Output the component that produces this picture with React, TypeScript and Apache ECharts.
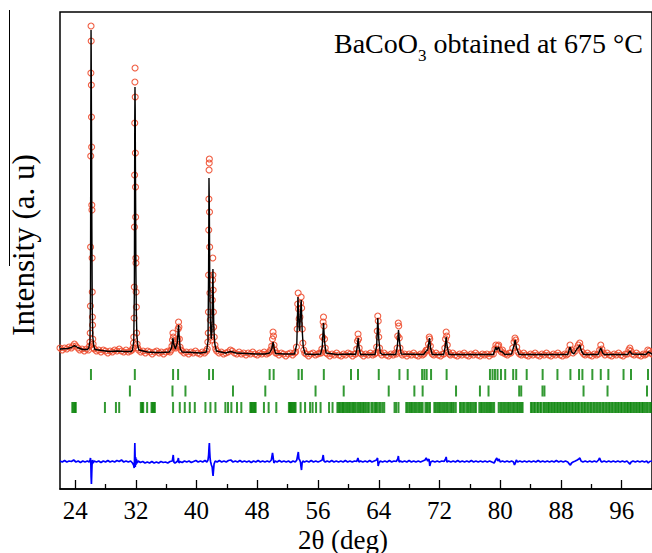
import React, { useEffect, useRef } from "react";
import * as echarts from "echarts";

const FONT = "'Liberation Serif', 'Times New Roman', Times, serif";

// 2θ tick labels
const majorTicks = [24, 32, 40, 48, 56, 64, 72, 80, 88, 96];
const minorTicks = [28, 36, 44, 52, 60, 68, 76, 84, 92, 100];

// observed intensities [2θ, I]
const observed: number[][] = [
  [22.0,141],[22.3,139],[22.6,141],[22.9,140],[23.2,142],[23.5,141],[23.7,143],[23.9,145],[24.1,143],[24.35,141],[24.6,139],[24.9,140],[25.2,138],[25.5,140],[25.75,139],
  [25.9,143],[25.94,147],[25.98,156],[26.01,183],[26.03,242],[26.05,333],[26.07,416],[26.09,463],[26.11,448],[26.13,404],[26.15,372],[26.17,342],[26.19,284],[26.21,279],[26.23,231],[26.25,197],[26.27,172],[26.29,164],[26.32,150],[26.36,145],[26.42,141],
  [26.5,140],[26.8,138],[27.1,139],[27.4,137],[27.7,139],[28.0,138],[28.3,136],[28.6,138],[28.9,137],[29.2,139],[29.5,138],[29.8,140],[30.1,138],[30.4,137],[30.7,139],[31.0,137],[31.3,138],[31.5,139],
  [31.62,141],[31.68,146],[31.72,152],[31.76,171],[31.79,202],[31.81,262],[31.83,314],[31.85,366],[31.87,407],[31.89,421],[31.91,392],[31.93,336],[31.95,302],[31.97,272],[31.99,231],[32.01,226],[32.03,197],[32.06,182],[32.1,156],[32.16,145],[32.25,141],
  [32.35,139],[32.65,137],[32.95,138],[33.25,136],[33.55,138],[33.85,137],[34.15,135],[34.45,137],[34.75,138],[35.05,136],[35.35,137],[35.65,135],[35.95,137],[36.25,138],[36.5,137],
  [36.65,139],[36.75,143],[36.82,149],[36.88,156],[36.94,152],[37.0,145],[37.1,142],[37.25,141],[37.4,143],[37.5,150],[37.57,160],[37.62,167],[37.67,162],[37.73,150],[37.82,142],[37.95,139],
  [38.05,138],[38.35,136],[38.65,137],[38.95,135],[39.25,137],[39.55,136],[39.85,138],[40.15,136],[40.45,135],[40.75,137],[41.05,136],[41.3,138],
  [41.4,140],[41.48,147],[41.53,156],[41.56,177],[41.58,214],[41.6,259],[41.62,290],[41.64,319],[41.66,326],[41.68,330],[41.7,277],[41.72,242],[41.75,196],[41.8,169],[41.88,152],[41.95,149],[42.02,160],[42.07,189],[42.1,209],[42.13,231],[42.15,214],[42.18,199],[42.21,177],[42.25,162],[42.32,152],[42.42,144],[42.52,140],
  [42.65,138],[42.95,136],[43.25,137],[43.55,135],[43.85,136],[44.15,137],[44.45,139],[44.7,138],[45.0,136],[45.3,135],[45.6,137],[45.9,135],[46.2,136],[46.5,134],[46.8,136],[47.1,135],[47.4,137],[47.7,135],[48.0,134],[48.3,136],[48.6,135],[48.9,137],[49.2,135],
  [49.45,136],[49.6,137],[49.75,139],[49.9,143],[50.0,150],[50.07,157],[50.13,153],[50.2,144],[50.3,139],[50.42,136],
  [50.55,136],[50.85,134],[51.15,136],[51.45,135],[51.75,133],[52.05,135],[52.35,136],[52.65,134],[52.9,136],
  [53.05,137],[53.15,142],[53.25,160],[53.32,185],[53.38,196],[53.44,180],[53.5,170],[53.56,165],[53.62,172],[53.7,186],[53.77,192],[53.84,181],[53.92,160],[54.0,146],[54.12,139],[54.25,136],
  [54.45,135],[54.75,133],[55.05,135],[55.35,136],[55.65,134],[55.95,135],[56.2,136],
  [56.4,136],[56.5,140],[56.6,152],[56.67,167],[56.72,172],[56.78,163],[56.85,150],[56.95,141],[57.08,136],
  [57.25,135],[57.55,133],[57.85,135],[58.15,134],[58.45,136],[58.75,134],[59.05,133],[59.35,135],[59.65,134],[59.95,136],[60.25,135],[60.55,133],[60.8,135],
  [60.95,135],[61.1,140],[61.2,148],[61.27,155],[61.34,150],[61.42,141],[61.55,136],
  [61.7,135],[62.0,133],[62.3,135],[62.6,134],[62.9,136],[63.2,134],[63.45,135],
  [63.6,136],[63.72,142],[63.8,158],[63.87,173],[63.93,168],[64.0,152],[64.1,141],[64.22,136],
  [64.4,134],[64.7,136],[65.0,134],[65.3,133],[65.6,135],[65.9,134],[66.15,136],
  [66.3,135],[66.42,141],[66.5,153],[66.57,166],[66.63,163],[66.7,151],[66.8,141],[66.92,136],
  [67.1,134],[67.4,135],[67.7,133],[68.0,135],[68.3,134],[68.6,136],[68.9,134],[69.2,133],[69.5,135],[69.75,134],
  [69.95,135],[70.1,137],[70.25,139],[70.4,139],[70.55,145],[70.65,152],[70.72,150],[70.8,143],[70.92,137],[71.05,135],
  [71.25,134],[71.55,136],[71.85,134],[72.15,133],[72.4,135],
  [72.58,135],[72.7,141],[72.8,150],[72.88,157],[72.95,153],[73.03,144],[73.15,137],[73.3,135],
  [73.45,134],[73.75,136],[74.05,134],[74.35,133],[74.65,135],[74.95,134],[75.25,136],[75.55,134],[75.85,133],[76.15,135],[76.45,134],[76.75,136],[77.05,134],[77.35,133],[77.65,135],[77.95,134],[78.25,135],[78.55,133],[78.85,135],
  [79.1,135],[79.3,140],[79.43,144],[79.55,140],[79.68,143],[79.8,144],[79.95,139],[80.15,137],[80.3,139],[80.45,136],[80.7,135],[80.95,134],[81.2,136],[81.4,136],[81.65,141],[81.82,147],[81.95,151],[82.05,149],[82.18,142],[82.35,137],[82.55,135],
  [82.8,134],[83.1,136],[83.4,134],[83.7,133],[84.0,135],[84.3,134],[84.6,136],[84.9,134],[85.2,133],[85.5,135],[85.8,134],[86.1,136],[86.4,134],[86.7,133],[87.0,135],[87.3,134],[87.6,136],[87.9,134],[88.2,133],[88.5,135],[88.7,134],
  [88.9,135],[89.05,139],[89.2,144],[89.35,139],[89.6,136],[89.9,138],[90.1,141],[90.3,144],[90.48,146],[90.62,142],[90.8,137],[91.0,135],
  [91.2,134],[91.5,136],[91.8,134],[92.1,133],[92.4,135],[92.7,134],
  [92.95,135],[93.1,139],[93.25,144],[93.4,140],[93.58,136],
  [93.8,134],[94.1,136],[94.4,134],[94.7,133],[95.0,135],[95.3,134],[95.6,136],[95.9,134],[96.2,133],[96.5,135],
  [96.75,135],[96.95,139],[97.08,141],[97.22,138],[97.4,135],
  [97.65,134],[97.95,136],[98.25,134],[98.55,133],[98.85,135],[99.05,134],
  [99.25,135],[99.45,139],[99.65,138],[99.85,136],[100,135],
];

// calculated profile [2θ, I]
const calculated: number[][] = [
  [22.0,140],[23.0,140.5],[23.5,141.5],[23.9,143.5],[24.3,141.5],[25.0,139.5],[25.6,139.5],[25.8,141],[25.95,148],[26.02,200],[26.06,380],[26.09,459],[26.11,440],[26.14,380],[26.17,330],[26.2,260],[26.25,180],[26.32,152],[26.45,143],[26.6,139.5],
  [27.5,138.5],[28.5,137.5],[29.5,138],[30.5,137.5],[31.4,137.5],[31.55,139],[31.72,148],[31.8,200],[31.85,370],[31.88,402],[31.91,380],[31.94,320],[31.97,280],[32.0,220],[32.05,180],[32.12,155],[32.25,143],[32.4,139],
  [33.5,137],[34.5,136.5],[35.5,136.5],[36.4,137],[36.7,141],[36.88,151],[36.98,145],[37.2,140],[37.45,146],[37.62,164],[37.72,150],[37.85,140],[38.1,137],
  [39.5,136.5],[40.5,136],[41.3,137],[41.5,148],[41.58,220],[41.63,311],[41.68,280],[41.73,210],[41.8,170],[41.92,150],[42.02,158],[42.1,200],[42.15,220],[42.2,190],[42.27,160],[42.4,145],[42.6,138],
  [43.8,136],[44.5,137.5],[45.2,136],[46.5,135.5],[47.8,135],[49.0,135],[49.6,136],[49.9,140],[50.08,147],[50.2,141],[50.4,135.5],
  [51.5,135],[52.9,135],[53.2,145],[53.35,192],[53.5,162],[53.57,158],[53.78,189],[53.9,160],[54.05,142],[54.3,135],
  [55.6,134.5],[56.35,135],[56.55,142],[56.72,166],[56.85,148],[57.05,136],[58.5,134.5],[60.3,135],[60.95,134.5],[61.15,141],[61.28,151],[61.4,141],[61.6,134.5],
  [63.5,134.5],[63.72,143],[63.87,171],[64.0,150],[64.2,136],[64.5,134.5],[66.25,134.5],[66.45,143],[66.6,159],[66.72,148],[66.95,135],
  [69.9,134.5],[70.25,138],[70.45,139],[70.68,151],[70.82,141],[71.05,134.5],[72.55,134.5],[72.75,142],[72.88,152],[73.02,142],[73.25,134.5],
  [79.1,134.5],[79.43,142],[79.55,139],[79.78,142],[79.95,138],[80.3,137],[80.6,134.5],[81.5,135],[81.8,143],[81.97,149],[82.15,141],[82.5,134.5],
  [88.9,134.5],[89.2,142],[89.4,137],[89.7,135],[90.1,140],[90.25,141],[90.48,144],[90.7,138],[91.0,134.5],[92.9,134.5],[93.25,141],[93.5,136],[93.7,134.5],
  [96.8,134.5],[97.07,138],[97.35,135],[99.2,134.5],[99.5,137],[99.8,136],[100,135],
];

// difference curve (offset) [2θ, I]
const difference: number[][] = [
  [22.0,28],[22.3,27],[22.6,28.5],[22.9,27],[23.2,28],[23.5,27.5],[23.8,29],[24.1,27],[24.4,28],[24.7,26.5],[25.0,28],[25.3,27],[25.6,28],[25.85,27],[25.95,29],[26.02,31],[26.07,24],[26.1,12],[26.14,5],[26.18,15],[26.22,24],[26.28,29],[26.35,26],
  [26.5,28],[26.8,27],[27.1,28],[27.4,26.5],[27.7,28],[28.0,27],[28.3,28.5],[28.6,27],[28.9,28],[29.2,27],[29.5,28.5],[29.8,27.5],[30.1,29],[30.4,27],[30.7,28],[31.0,27],[31.3,28],[31.55,26],[31.7,24],[31.78,21],[31.82,30],[31.86,46],[31.89,35],[31.92,22],[31.96,32],[32.0,24],[32.06,30],[32.15,26],
  [32.3,28],[32.6,26.5],[32.9,27.5],[33.2,26],[33.5,27],[33.8,26],[34.1,27.5],[34.4,26],[34.7,27],[35.0,26],[35.3,27.5],[35.6,26.5],[35.9,27],[36.2,26],[36.5,27.5],[36.8,28],[36.92,34],[37.0,27],[37.15,26],[37.35,27],[37.5,28],[37.6,31],[37.68,26],[37.8,27.5],
  [38.1,26.5],[38.4,28],[38.7,27],[39.0,28],[39.3,26.5],[39.6,27.5],[39.9,28.5],[40.2,27],[40.5,28],[40.8,27],[41.1,28.5],[41.35,27],[41.5,29],[41.58,34],[41.64,42],[41.68,46],[41.72,38],[41.78,30],[41.85,27],[41.95,24],[42.05,22],[42.12,16],[42.17,13],[42.22,18],[42.3,25],[42.45,28],
  [42.7,27],[43.0,28.5],[43.3,27],[43.6,28],[43.9,27],[44.2,28.5],[44.5,29],[44.8,27],[45.1,28],[45.4,27],[45.7,28.5],[46.0,27],[46.3,28],[46.6,27],[46.9,28],[47.2,26.5],[47.5,28],[47.8,27],[48.1,28.5],[48.4,27],[48.7,28],[49.0,27],[49.3,28],[49.6,27],[49.85,29],[50.0,36],[50.08,32],[50.18,26],[50.35,28],
  [50.6,27],[50.9,28.5],[51.2,27],[51.5,28],[51.8,27],[52.1,28],[52.4,26.5],[52.7,28],[53.0,27],[53.2,29],[53.3,33],[53.4,37],[53.48,30],[53.58,29],[53.68,27],[53.76,22],[53.82,19],[53.9,26],[54.0,28],
  [54.2,27],[54.5,28],[54.8,27],[55.1,28.5],[55.4,27],[55.7,28],[56.0,27],[56.3,28],[56.55,29],[56.68,34],[56.78,28],[56.95,27],[57.2,28],[57.5,27],[57.8,28.5],[58.1,27],[58.4,28],[58.7,27],[59.0,28],[59.3,27],[59.6,28.5],[59.9,27],[60.2,28],[60.5,27],[60.8,28],[61.1,27.5],[61.25,31],[61.4,27],
  [61.6,28],[61.9,27],[62.2,28],[62.5,27],[62.8,28.5],[63.1,27],[63.4,28],[63.7,29],[63.84,31],[63.92,23],[64.02,26],[64.2,28],[64.5,27],[64.8,28],[65.1,27],[65.4,28.5],[65.7,27],[66.0,28],[66.3,27.5],[66.5,30],[66.58,33],[66.68,27],[66.85,28],
  [67.1,27],[67.4,28],[67.7,27],[68.0,28.5],[68.3,27],[68.6,28],[68.9,27],[69.2,28],[69.5,27],[69.8,28],[70.1,29],[70.25,31],[70.45,28],[70.62,30],[70.72,23],[70.85,27],[71.1,28],[71.4,27],[71.7,28],[72.0,27],[72.3,28],[72.6,27.5],[72.8,30],[72.88,32],[72.98,27],
  [73.2,28],[73.5,27],[73.8,28],[74.1,27],[74.4,28.5],[74.7,27],[75.0,28],[75.3,27],[75.6,28],[75.9,27],[76.2,28.5],[76.5,27],[76.8,28],[77.1,27],[77.4,28],[77.7,27],[78.0,28],[78.3,27],[78.6,28],[78.9,27],[79.2,26],[79.4,29],[79.55,31],[79.7,28],[79.85,30],[80.0,27],
  [80.3,28],[80.6,27],[80.9,28],[81.2,27],[81.5,28],[81.75,27],[81.88,24],[82.0,26],[82.12,29],[82.3,27],[82.6,28],[82.9,27],[83.2,28],[83.5,27],[83.8,28],[84.1,27],[84.4,28],[84.7,27],[85.0,28.5],[85.3,27],[85.6,28],[85.9,27],[86.2,28],[86.5,27],[86.8,28],[87.1,27],[87.4,28.5],[87.7,27],[88.0,28],[88.3,27],[88.6,28],[88.9,27],
  [89.1,25],[89.25,24],[89.4,26],[89.6,27],[89.9,28],[90.15,29],[90.35,30],[90.5,31],[90.65,28],[90.9,27],[91.2,28],[91.5,27],[91.8,28],[92.1,27],[92.4,28],[92.7,27],[92.95,29],[93.1,31],[93.25,28],[93.4,27],[93.7,28],[94.0,27],[94.3,28],[94.6,27],[94.9,28],[95.2,27],[95.5,28],[95.8,27],[96.1,28],[96.4,27],[96.7,28],
  [96.95,26],[97.1,25],[97.25,27],[97.5,28],[97.8,27],[98.1,28],[98.4,27],[98.7,28],[99.0,27],[99.3,28],[99.5,26],[99.7,27.5],[100,28],
];

// Bragg reflection positions (2θ) for the three phases
const phase1Ticks = [26.08,31.86,36.9,37.56,41.64,42.16,49.62,50.15,53.43,53.87,56.76,60.34,61.26,64.0,66.72,67.81,69.71,70.01,70.31,70.89,72.94,78.65,78.99,79.31,79.65,80.1,80.66,81.71,82.11,83.49,85.59,87.54,89.25,90.39,90.83,92.14,93.25,94.25,96.25,97.23,99.47];
const phase2Ticks = [31.21,36.82,38.53,44.79,49.05,55.67,59.38,65.31,68.69,69.78,74.18,77.33,78.46,82.5,82.77,85.57,85.83,90.98,94.14,99.34];
const phase3Ticks = [
  23.62,23.78,23.95,24.08,27.92,29.37,29.8,32.65,32.82,32.96,33.48,34.06,34.2,34.35,34.5,36.9,37.78,38.44,39.1,39.76,41.16,41.82,42.48,43.79,44.14,44.58,45.32,45.89,
  47.08,47.2,47.35,47.5,47.65,47.78,48.87,49.49,50.5,52.16,52.3,52.45,52.6,52.75,52.9,53.04,53.7,54.29,54.95,55.28,55.74,56.33,57.45,57.91,
  58.55,58.72,58.9,59.12,59.28,59.45,59.66,59.85,60.02,60.2,60.41,60.6,60.78,60.95,61.18,61.36,61.55,61.72,61.93,62.1,62.3,62.52,62.7,
  63.02,63.2,63.45,63.62,63.8,64.05,64.25,64.5,64.72,66.08,66.3,66.6,
  67.62,67.8,68.02,68.2,68.38,68.61,68.8,69.0,69.22,69.4,69.6,69.78,70.15,70.35,70.55,70.75,
  71.32,71.5,71.71,71.9,72.08,72.3,72.5,72.7,72.91,73.08,73.3,73.52,73.7,73.9,74.15,
  74.7,74.9,75.12,75.3,75.55,75.75,75.95,76.15,76.4,76.62,76.8,77.25,77.45,77.62,77.85,78.05,78.25,78.45,78.62,78.8,79.0,79.2,
  79.8,80.02,80.2,80.41,80.6,80.8,81.02,81.2,81.4,81.62,81.8,82.0,82.22,82.4,82.6,82.8,82.95,
  84.05,84.22,84.46,84.63,84.88,85.02,85.27,85.41,85.69,85.84,86.05,86.27,86.43,86.66,86.84,87.06,87.23,87.47,87.64,87.86,88.03,88.27,88.44,88.67,88.83,
  89.06,89.25,89.47,89.63,89.87,90.04,90.26,90.43,90.68,90.84,91.07,91.22,91.46,91.65,91.88,92.03,92.27,92.44,92.66,92.85,
  93.07,93.24,93.48,93.63,93.86,94.05,94.28,94.44,94.67,94.83,95.06,95.25,95.47,95.64,95.88,96.03,96.26,96.45,96.67,96.84,
  97.07,97.23,97.46,97.65,97.86,98.04,98.27,98.43,98.68,98.84,99.05,99.26,99.44,99.67,99.85,
];

// vertical levels (intensity units) of the three reflection rows
const ROW1 = 114.5;
const ROW2 = 98;
const ROW3 = 81.5;

function tickSeries(ticks: number[], level: number) {
  return {
    type: "scatter",
    data: ticks.map((t) => [t, level]),
    symbol: "rect",
    symbolSize: [2, 11],
    itemStyle: { color: "#008000" },
    silent: true,
    z: 2,
  };
}

export default function App() {
  const ref = useRef<HTMLDivElement>(null);
  useEffect(() => {
    if (!ref.current) return;
    const chart = echarts.init(ref.current, undefined, { renderer: "svg" });
    const option: any = {
      animation: false,
      backgroundColor: "#ffffff",
      grid: {
        left: 60,
        right: -1,
        top: 12,
        bottom: 64,
        show: true,
        borderColor: "#000",
        borderWidth: 1.5,
        backgroundColor: "transparent",
      },
      xAxis: [
        {
          type: "value",
          min: 22,
          max: 100,
          position: "bottom",
          axisLine: { show: true, onZero: false, lineStyle: { color: "#000", width: 1.5 } },
          axisTick: { show: true, inside: true, length: 9, customValues: majorTicks, lineStyle: { color: "#000", width: 1.3 } },
          axisLabel: {
            show: true,
            customValues: majorTicks,
            margin: 11.5,
            fontFamily: FONT,
            fontSize: 25,
            lineHeight: 20,
            color: "#000",
          },
          splitLine: { show: false },
        },
        {
          type: "value",
          min: 22,
          max: 100,
          position: "bottom",
          axisLine: { show: false, onZero: false },
          axisTick: { show: true, inside: true, length: 5, customValues: minorTicks, lineStyle: { color: "#000", width: 1.3 } },
          axisLabel: { show: false },
          splitLine: { show: false },
        },
      ],
      yAxis: {
        type: "value",
        min: 0,
        max: 477,
        show: false,
        splitLine: { show: false },
      },
      series: [
        {
          type: "scatter",
          data: observed,
          symbol: "circle",
          symbolSize: 6,
          itemStyle: { color: "rgba(0,0,0,0)", borderColor: "#ee4e30", borderWidth: 1.1, opacity: 0.9 },
          silent: true,
          z: 2,
        },
        {
          type: "line",
          data: calculated,
          showSymbol: false,
          lineStyle: { color: "#000", width: 1.4 },
          silent: true,
          z: 4,
        },
        {
          type: "line",
          data: difference,
          showSymbol: false,
          lineStyle: { color: "#0000ff", width: 1.7 },
          silent: true,
          z: 4,
        },
        tickSeries(phase1Ticks, ROW1),
        tickSeries(phase2Ticks, ROW2),
        tickSeries(phase3Ticks, ROW3),
      ],
      graphic: [
        {
          type: "text",
          x: 643,
          y: 43.5,
          style: {
            text: "{a|BaCoO}{s|3}{a| obtained at 675 °C}",
            rich: {
              a: { fontSize: 28, fontFamily: FONT, lineHeight: 40, fill: "#000" },
              s: { fontSize: 17, fontFamily: FONT, lineHeight: 17, verticalAlign: "bottom", fill: "#000" },
            },
            align: "right",
            verticalAlign: "middle",
          },
        },
        {
          type: "text",
          x: 23,
          y: 245,
          rotation: Math.PI / 2,
          style: {
            text: "Intensity (a. u)",
            fontSize: 31,
            fontFamily: FONT,
            fill: "#000",
            align: "center",
            verticalAlign: "middle",
          },
        },
        {
          type: "text",
          x: 343,
          y: 539.5,
          style: {
            text: "2θ (deg)",
            fontSize: 27,
            lineHeight: 27,
            fontFamily: FONT,
            fill: "#000",
            align: "center",
            verticalAlign: "middle",
          },
        },
        {
          type: "line",
          shape: { x1: 9.5, y1: 10, x2: 9.5, y2: 266 },
          style: { stroke: "#000", lineWidth: 1 },
        },
      ],
    };
    chart.setOption(option);
    return () => chart.dispose();
  }, []);
  return (
    <div
      ref={ref}
      style={{ position: "absolute", left: 0, top: 0, width: 652, height: 553 }}
    />
  );
}
